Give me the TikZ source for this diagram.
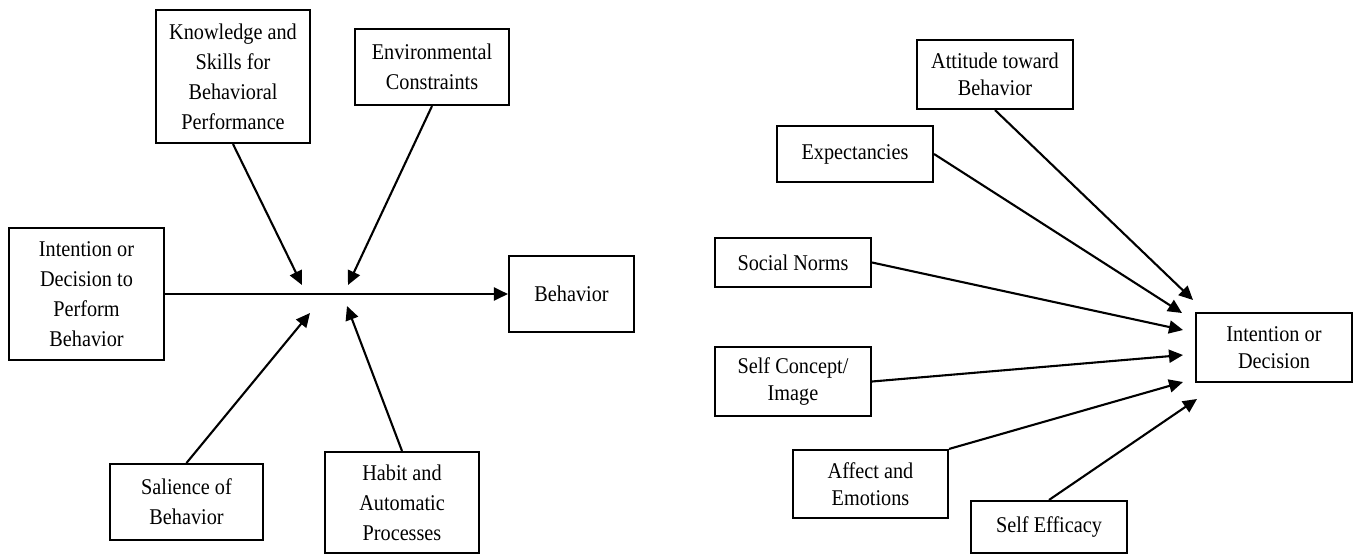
\documentclass[tikz,border=0pt]{standalone}
\usepackage{fontspec}
\setmainfont[FakeStretch=0.9]{Liberation Serif}
\usetikzlibrary{arrows.meta}
\tikzset{
  box/.style={draw, line width=2.1pt, inner sep=0pt, align=center, fill=white,
    font={\fontsize{22.5pt}{30pt}\selectfont}},
  rbox/.style={box, font={\fontsize{22.5pt}{27.5pt}\selectfont}},
  conn/.style={line width=2.1pt, -{Triangle[length=14pt,width=13pt]}}
}
\begin{document}
\begin{tikzpicture}[x=1pt,y=-1pt]
\useasboundingbox[fill=white] (0,0) rectangle (1360,555);
% left diagram
\node[box, minimum width=154pt, minimum height=133pt] (kn) at (233,76.5) {Knowledge and\\Skills for\\Behavioral\\Performance};
\node[box, minimum width=154pt, minimum height=76pt] (en) at (432,67) {Environmental\\Constraints};
\node[box, minimum width=155pt, minimum height=132pt] (in) at (86.5,294) {Intention or\\Decision to\\Perform\\Behavior};
\node[box, minimum width=125pt, minimum height=76pt] (be) at (571.5,294) {Behavior};
\node[box, minimum width=153pt, minimum height=76pt] (sa) at (186.5,502) {Salience of\\Behavior};
\node[box, minimum width=154pt, minimum height=101pt] (ha) at (402,502.5) {Habit and\\Automatic\\Processes};
\coordinate (t1) at (302,285);
\coordinate (t2) at (348,285);
\coordinate (t3) at (310,313);
\coordinate (t4) at (347,306);
\draw[conn] (in.east) -- (be.west);
\draw[conn] (kn.south) -- (t1);
\draw[conn] (en.south) -- (t2);
\draw[conn] (sa.north) -- (t3);
\draw[conn] (ha.north) -- (t4);
% right diagram
\node[rbox, minimum width=156pt, minimum height=69pt] (at) at (995,74.5) {Attitude toward\\Behavior};
\node[rbox, minimum width=156pt, minimum height=56pt] (ex) at (855,154) {Expectancies};
\node[rbox, minimum width=156pt, minimum height=49pt] (sn) at (793,262.5) {Social Norms};
\node[rbox, minimum width=156pt, minimum height=69pt] (sc) at (793,381.5) {Self Concept/\\Image};
\node[rbox, minimum width=155pt, minimum height=68pt] (af) at (870.5,484) {Affect and\\Emotions};
\node[rbox, minimum width=156pt, minimum height=52pt] (se) at (1049,527) {Self Efficacy};
\node[rbox, minimum width=156pt, minimum height=69pt] (id) at (1274,347.5) {Intention or\\Decision};
\coordinate (r1) at (1193,300);
\coordinate (r2) at (1182,313);
\coordinate (r3) at (1183,330);
\coordinate (r4) at (1183,355);
\coordinate (r5) at (1183,382);
\coordinate (r6) at (1197,399);
\draw[conn] (at.south) -- (r1);
\draw[conn] (ex.east) -- (r2);
\draw[conn] (sn.east) -- (r3);
\draw[conn] (sc.east) -- (r4);
\draw[conn] (af.north east) -- (r5);
\draw[conn] (se.north) -- (r6);
\end{tikzpicture}
\end{document}
